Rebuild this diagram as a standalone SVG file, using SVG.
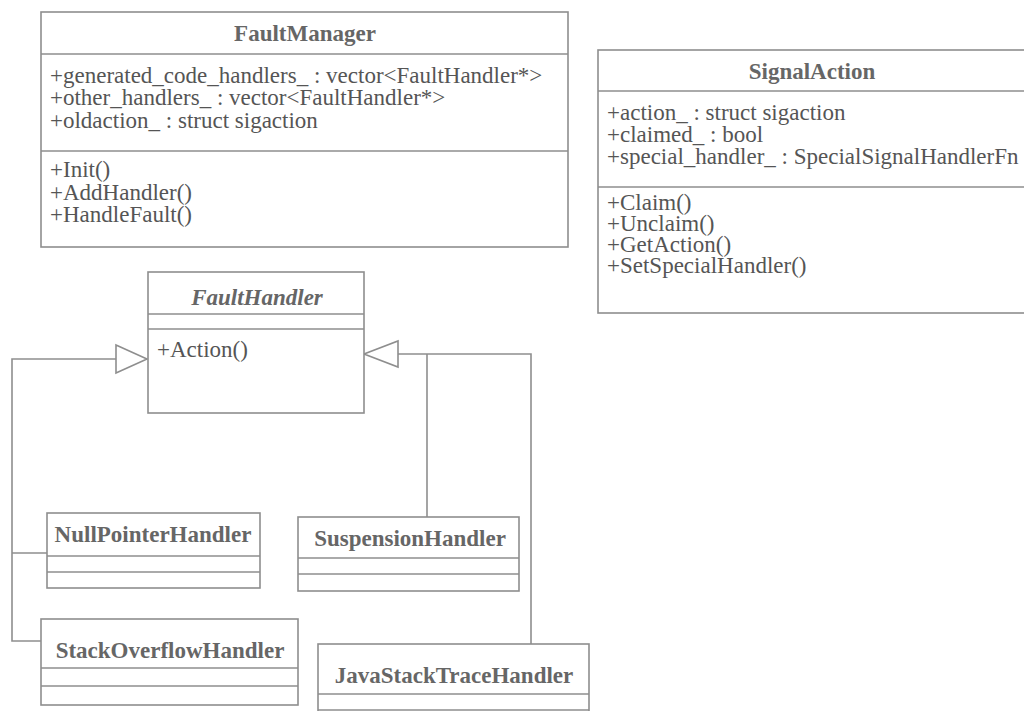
<svg xmlns="http://www.w3.org/2000/svg" width="1024" height="711" viewBox="0 0 1024 711">
<style>
.box{fill:#fff;stroke:#8e8e8e;stroke-width:1.6}
.sep{stroke:#8e8e8e;stroke-width:1.6}
.conn{fill:none;stroke:#8e8e8e;stroke-width:1.6}
.tri{fill:#fff;stroke:#8e8e8e;stroke-width:1.6;stroke-linejoin:miter}
.title{font-family:"Liberation Serif","Times New Roman",serif;font-weight:bold;font-size:23px;fill:#666;text-anchor:middle}
.ital{font-style:italic}
.txt{font-family:"Liberation Serif","Times New Roman",serif;font-size:23px;fill:#555}
</style>
<rect width="1024" height="711" fill="#fff"/>
<g id="connectors">
<polyline class="conn" points="116,359 12,359 12,641 41,641"/>
<line class="conn" x1="12" y1="553" x2="47" y2="553"/>
<polyline class="conn" points="398,354 531,354 531,644"/>
<line class="conn" x1="427" y1="354" x2="427" y2="517"/>
<polygon class="tri" points="116,345 147,359 116,373"/>
<polygon class="tri" points="364,354 398,341 398,367"/>
</g>
<g id="FaultManager">
<rect class="box" x="41" y="12" width="527" height="235"/>
<line class="sep" x1="41" y1="54" x2="568" y2="54"/>
<line class="sep" x1="41" y1="151" x2="568" y2="151"/>
<text class="title" x="305" y="41">FaultManager</text>
<text class="txt" x="50" y="83">+generated_code_handlers_ : vector&lt;FaultHandler*&gt;</text>
<text class="txt" x="50" y="105">+other_handlers_ : vector&lt;FaultHandler*&gt;</text>
<text class="txt" x="50" y="128">+oldaction_ : struct sigaction</text>
<text class="txt" x="50" y="177">+Init()</text>
<text class="txt" x="50" y="200">+AddHandler()</text>
<text class="txt" x="50" y="222">+HandleFault()</text>
</g>
<g id="SignalAction">
<rect class="box" x="598" y="50" width="430" height="263"/>
<line class="sep" x1="598" y1="91" x2="1028" y2="91"/>
<line class="sep" x1="598" y1="187" x2="1028" y2="187"/>
<text class="title" x="812" y="79">SignalAction</text>
<text class="txt" x="607" y="120">+action_ : struct sigaction</text>
<text class="txt" x="607" y="142">+claimed_ : bool</text>
<text class="txt" x="607" y="164">+special_handler_ : SpecialSignalHandlerFn</text>
<text class="txt" x="607" y="210">+Claim()</text>
<text class="txt" x="607" y="231">+Unclaim()</text>
<text class="txt" x="607" y="252">+GetAction()</text>
<text class="txt" x="607" y="273">+SetSpecialHandler()</text>
</g>
<g id="FaultHandler">
<rect class="box" x="148" y="272" width="216" height="141"/>
<line class="sep" x1="148" y1="314" x2="364" y2="314"/>
<line class="sep" x1="148" y1="329" x2="364" y2="329"/>
<text class="title ital" x="257" y="305">FaultHandler</text>
<text class="txt" x="157" y="357">+Action()</text>
</g>
<g id="NullPointerHandler">
<rect class="box" x="47" y="513" width="213" height="75"/>
<line class="sep" x1="47" y1="556" x2="260" y2="556"/>
<line class="sep" x1="47" y1="572" x2="260" y2="572"/>
<text class="title" x="153" y="542">NullPointerHandler</text>
</g>
<g id="SuspensionHandler">
<rect class="box" x="298" y="517" width="221" height="74"/>
<line class="sep" x1="298" y1="558" x2="519" y2="558"/>
<line class="sep" x1="298" y1="574" x2="519" y2="574"/>
<text class="title" x="410" y="546">SuspensionHandler</text>
</g>
<g id="StackOverflowHandler">
<rect class="box" x="41" y="619" width="257" height="86"/>
<line class="sep" x1="41" y1="668" x2="298" y2="668"/>
<line class="sep" x1="41" y1="686" x2="298" y2="686"/>
<text class="title" x="170" y="658">StackOverflowHandler</text>
</g>
<g id="JavaStackTraceHandler">
<rect class="box" x="318" y="644" width="271" height="80"/>
<line class="sep" x1="318" y1="694" x2="589" y2="694"/>
<line class="sep" x1="318" y1="710" x2="589" y2="710"/>
<text class="title" x="454" y="683">JavaStackTraceHandler</text>
</g>
</svg>
